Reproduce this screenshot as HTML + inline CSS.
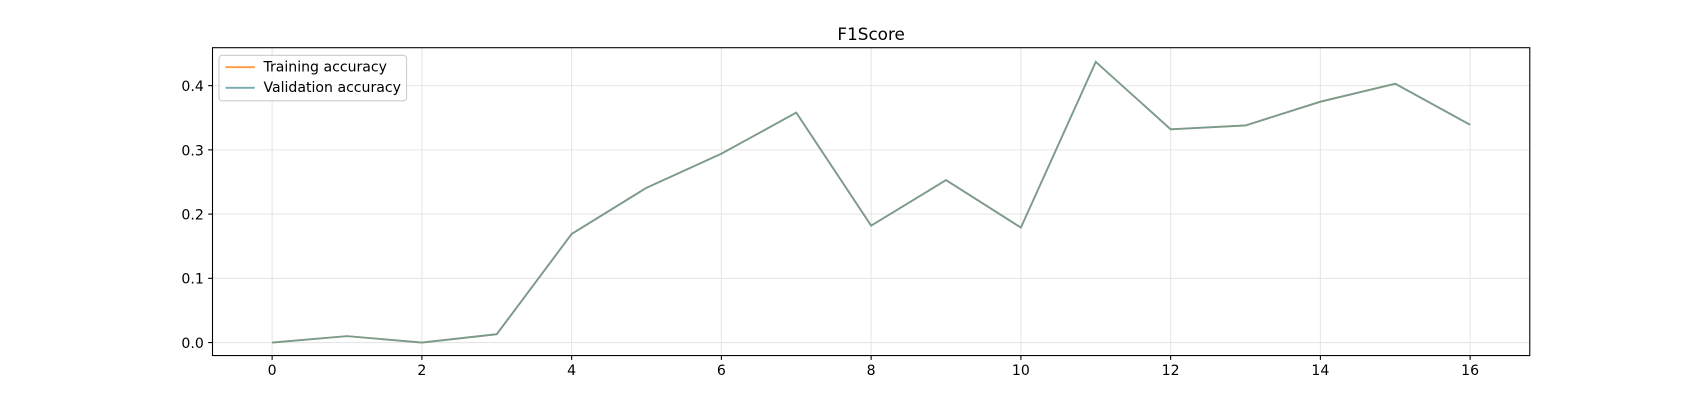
<!DOCTYPE html>
<html><head><meta charset="utf-8"><style>
body{margin:0;background:#fff;width:1700px;height:400px;overflow:hidden}
svg text{font-family:"DejaVu Sans","Liberation Sans",sans-serif;font-size:13px;fill:#000}
</style></head><body>
<svg id="c" width="1700" height="400" viewBox="0 0 1568 369" preserveAspectRatio="none"></svg>
<script>
const epochs=[0,1,2,3,4,5,6,7,8,9,10,11,12,13,14,15,16];
const trainVals=[0,0.010,0,0.013,0.169,0.241,0.294,0.358,0.182,0.253,0.179,0.437,0.332,0.338,0.375,0.403,0.339];
const valVals=[0,0.010,0,0.013,0.169,0.241,0.294,0.358,0.182,0.253,0.179,0.437,0.332,0.338,0.375,0.403,0.339];
const xTicks=[0,2,4,6,8,10,12,14,16];
const yTicks=[0.0,0.1,0.2,0.3,0.4];
const L=196,R=1411,T=44,B=328;
const xs=v=>251+(v)*(1356-251)/16;
const ys=v=>316-v*592.5;
const s=document.getElementById('c');const NS='http://www.w3.org/2000/svg';
function mk(t,a,p){const e=document.createElementNS(NS,t);for(const k in a)e.setAttribute(k,a[k]);(p||s).appendChild(e);return e;}
xTicks.forEach(v=>{const x=xs(v);
const g=mk('line',{x1:x,x2:x,y1:T,y2:B,stroke:'#e6e6e6','stroke-width':1});

mk('line',{x1:x,x2:x,y1:B,y2:B+4,stroke:'#000'});
const t=mk('text',{x:x,y:B+18,'text-anchor':'middle'});t.textContent=v;
});
yTicks.forEach(v=>{const y=ys(v);
const g=mk('line',{x1:L,x2:R,y1:y,y2:y,stroke:'#e6e6e6','stroke-width':1});

mk('line',{x1:L-4,x2:L,y1:y,y2:y,stroke:'#000'});
const t=mk('text',{x:L-8,y:y+5,'text-anchor':'end'});t.textContent=v.toFixed(1);
});
const pts=a=>a.map((v,i)=>xs(epochs[i])+','+ys(v)).join(' ');
const l1=mk('polyline',{points:pts(trainVals),fill:'none',stroke:'#ff7f0e','stroke-width':1.7,'stroke-opacity':0.8});

const l2=mk('polyline',{points:pts(valVals),fill:'none',stroke:'#5f9ea0','stroke-width':1.7,'stroke-opacity':0.85});

const fr=mk('rect',{x:L,y:T,width:R-L,height:B-T,fill:'none',stroke:'#000','stroke-width':1});

const ti=mk('text',{x:(L+R)/2,y:37,'text-anchor':'middle'});ti.textContent='F1Score';ti.style.fontSize='15.5px';

const lg=mk('g',{});
mk('rect',{x:202,y:51,width:173,height:42,rx:3,fill:'#fff','fill-opacity':0.8,stroke:'#ccc'},lg);
mk('line',{x1:208,x2:235,y1:62,y2:62,stroke:'#ff7f0e','stroke-width':1.7,'stroke-opacity':0.8},lg);
mk('line',{x1:208,x2:235,y1:81,y2:81,stroke:'#5f9ea0','stroke-width':1.7,'stroke-opacity':0.85},lg);
const a=mk('text',{x:243,y:66},lg);a.textContent='Training accuracy';

const b=mk('text',{x:243,y:85},lg);b.textContent='Validation accuracy';

</script></body></html>
